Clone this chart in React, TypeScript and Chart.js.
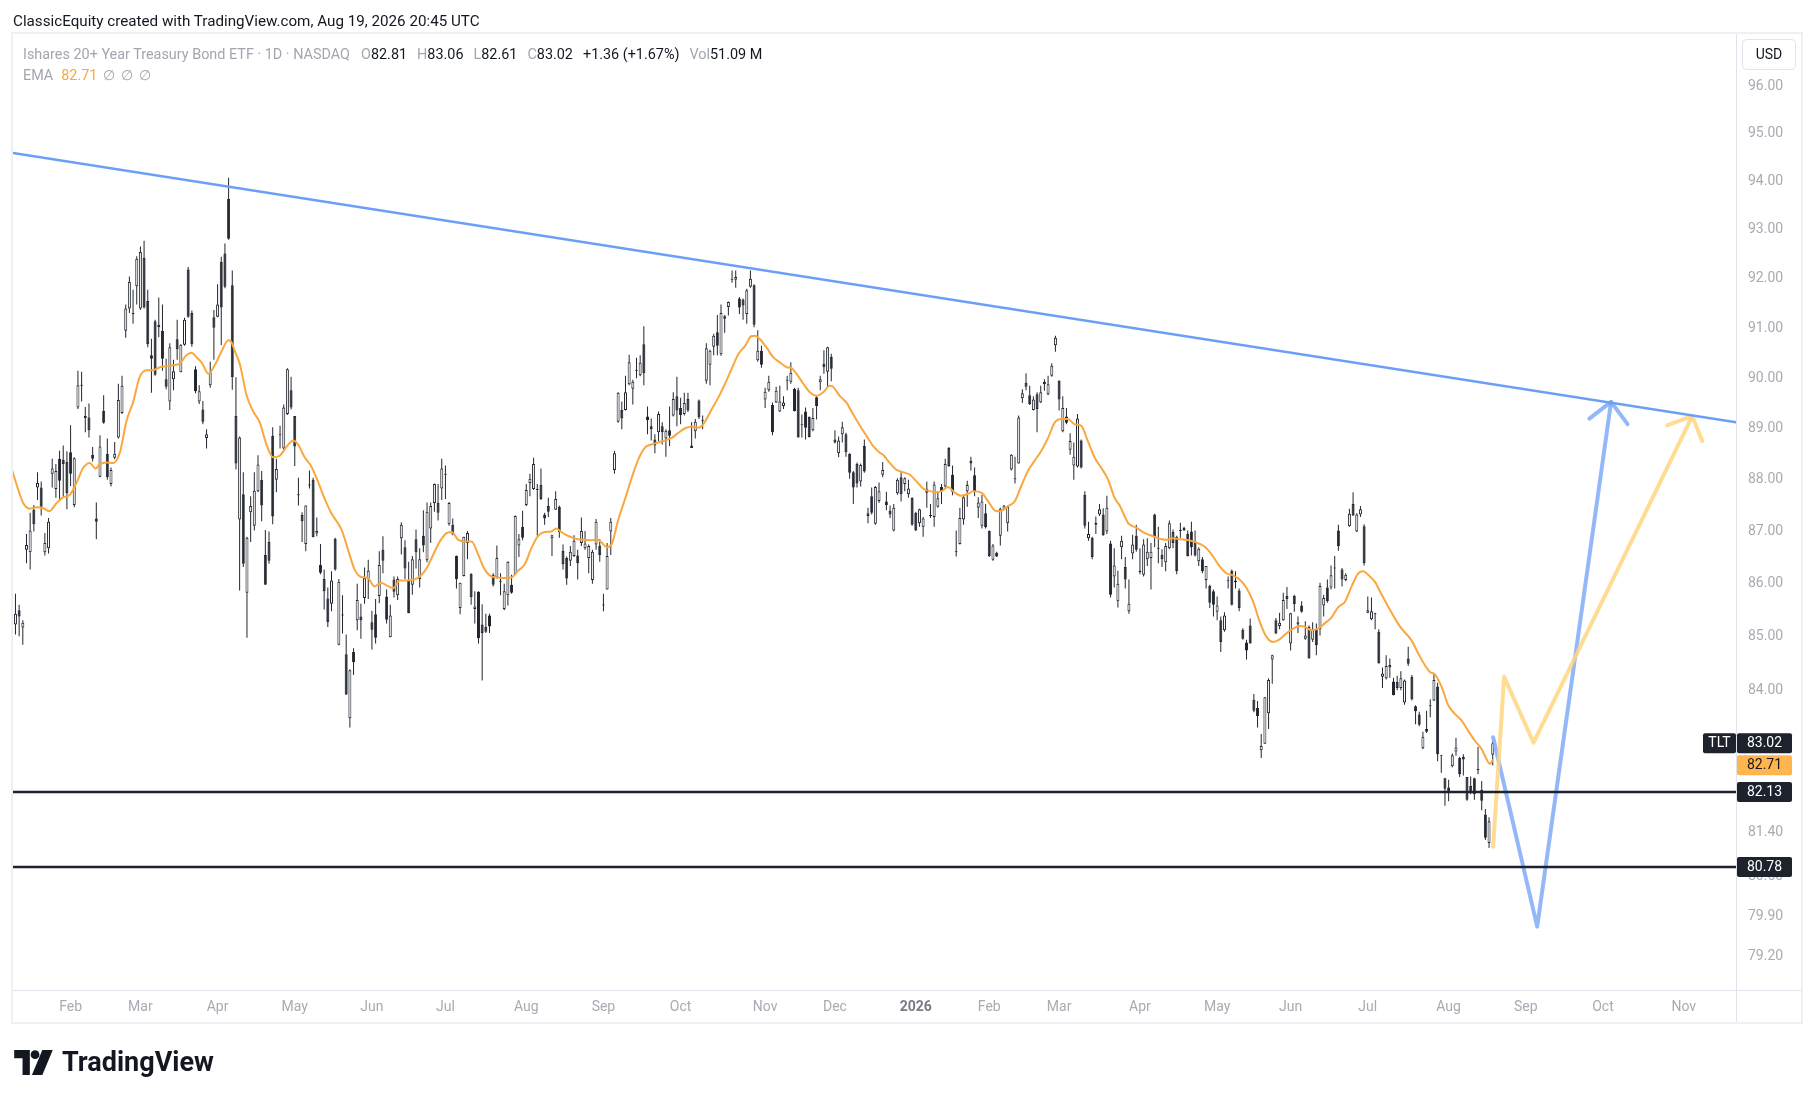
import React, { useEffect, useRef } from "react";
import { Chart, registerables } from "chart.js";
Chart.register(...registerables);

const W = 1815;
const H = 1100;

// ---- daily candles (bar index 0 = Jan 10 2025) ----
const openP = [
85.23,85.50,85.17,86.65,86.60,87.42,87.85,87.85,86.60,86.68,
88.12,87.82,88.41,88.39,88.35,88.54,87.51,89.42,89.85,89.21,
89.22,88.49,87.25,88.06,89.35,88.51,87.92,88.43,88.83,89.31,
90.95,91.40,91.29,91.85,91.40,92.43,91.55,90.46,91.14,91.07,
90.95,89.98,89.54,89.98,90.78,90.12,90.67,92.19,91.31,90.18,
89.54,89.38,88.82,89.86,91.22,91.23,92.35,92.52,93.64,91.87,
89.25,87.23,87.72,85.83,87.37,87.11,87.78,88.00,86.55,86.80,
88.86,88.00,88.87,88.61,89.29,89.76,89.25,87.70,87.32,86.76,
87.89,88.00,86.96,86.36,86.09,85.72,85.62,86.86,84.85,85.40,
84.67,83.48,84.71,85.31,85.38,85.73,86.09,85.27,85.42,85.77,
86.65,85.76,84.99,86.08,85.78,86.87,86.70,86.06,85.98,86.85,
86.09,86.92,86.45,87.06,87.55,87.55,87.83,88.10,87.14,87.13,
86.53,85.54,86.15,86.78,86.19,85.52,85.85,85.23,85.18,85.40,
86.17,86.12,86.04,85.52,85.78,85.98,86.18,86.73,87.09,87.51,
87.94,87.82,87.80,87.90,87.33,87.49,86.87,87.42,87.48,86.63,
86.49,86.44,86.53,86.54,86.78,86.68,86.49,86.07,86.75,86.73,
85.59,85.89,87.00,88.19,89.14,89.37,89.37,89.88,89.79,90.15,
90.06,90.68,89.24,89.05,88.79,88.93,89.05,88.81,88.97,89.26,
89.64,89.41,89.29,89.59,88.67,88.95,89.56,89.16,89.95,90.27,
90.63,90.92,90.48,91.24,91.43,91.98,91.98,91.60,91.58,91.29,
91.84,91.87,90.36,90.55,89.58,89.76,89.47,89.52,89.34,89.45,
89.95,89.93,89.79,89.76,89.07,89.34,89.23,88.97,89.62,89.92,
90.29,90.13,90.43,88.79,88.52,88.89,88.89,88.51,88.15,88.31,
87.97,88.66,87.35,87.68,87.15,87.59,88.10,87.58,87.40,87.02,
87.74,88.05,87.92,87.72,87.65,87.36,87.16,87.09,87.82,87.30,
87.28,87.48,87.86,87.87,88.62,88.10,86.60,86.76,87.23,87.78,
88.37,88.09,87.46,87.11,87.35,87.01,86.46,86.59,86.92,87.44,
87.16,88.20,88.01,88.32,89.60,89.91,89.66,89.37,89.68,89.52,
89.93,89.68,90.05,90.66,89.95,88.95,89.24,88.59,88.28,88.26,
88.77,87.71,86.87,86.88,87.13,87.33,87.33,87.00,86.77,86.14,
85.67,86.70,86.32,85.48,86.58,86.92,86.25,86.17,86.47,86.49,
87.33,86.67,86.55,86.41,86.68,86.99,86.90,87.01,87.07,86.95,
87.00,86.80,86.43,86.47,86.07,85.96,85.86,85.47,85.31,85.12,
86.05,86.25,86.06,85.87,85.13,84.89,85.21,83.82,83.67,82.89,
83.01,83.57,84.57,85.31,85.20,85.31,85.77,84.87,85.77,85.23,
85.59,84.96,85.18,84.94,85.14,85.14,85.59,85.93,85.93,86.29,
87.02,86.27,86.07,87.10,87.53,87.00,87.33,87.10,85.45,85.33,
85.42,85.09,84.25,84.22,84.47,84.16,84.15,84.04,83.77,84.59,
84.25,83.70,83.55,82.93,83.28,83.70,83.81,84.07,82.79,82.38,
82.21,82.60,82.87,82.75,82.77,82.40,82.24,82.38,82.53,82.17,
81.72,81.21,82.81
];
const highP = [
85.81,85.60,85.31,86.95,87.36,87.51,88.15,87.97,86.97,87.26,
88.41,88.31,88.57,88.67,88.56,89.07,88.44,90.15,90.13,89.43,
89.50,88.64,87.56,88.87,89.66,88.81,88.24,88.74,89.89,90.05,
91.48,92.05,91.78,92.46,92.66,92.78,91.78,90.79,91.17,91.62,
91.48,90.39,90.70,90.37,91.17,90.68,91.21,92.24,91.36,90.24,
89.86,89.55,88.99,90.33,91.37,91.89,92.45,92.72,94.08,92.17,
90.02,88.85,88.15,86.90,87.68,88.15,88.48,88.17,87.03,87.00,
89.03,88.41,89.06,89.48,90.20,90.03,89.25,88.04,87.37,87.50,
88.18,88.04,87.27,86.76,86.27,85.93,86.24,86.88,86.09,85.78,
85.04,84.39,84.78,86.00,85.62,86.31,86.46,85.49,85.71,86.62,
86.91,85.89,85.60,86.14,86.14,87.18,86.83,86.42,86.53,87.04,
86.68,87.41,87.56,87.56,87.93,87.92,88.41,88.28,87.57,87.25,
86.54,86.02,86.90,87.01,86.20,85.86,85.86,85.61,85.43,85.43,
86.20,86.73,86.20,86.00,86.43,86.17,87.31,86.95,87.40,87.92,
88.12,88.43,87.92,88.22,87.36,87.65,86.94,87.78,87.50,86.75,
86.52,86.72,86.93,86.65,87.27,87.01,86.75,86.65,87.24,86.85,
85.81,86.78,87.26,88.57,89.72,89.54,90.05,90.47,89.97,90.41,
90.46,91.04,89.44,89.20,88.89,89.34,89.13,88.99,89.44,89.72,
90.03,89.61,89.71,89.71,89.13,89.19,89.58,89.26,90.70,90.57,
90.89,91.27,91.48,91.27,91.54,92.17,92.17,91.63,91.60,91.80,
92.17,91.89,90.96,90.65,89.81,90.05,89.52,89.83,89.85,89.64,
90.05,90.32,89.81,89.81,89.28,89.42,89.24,89.41,89.64,90.05,
90.56,90.63,90.49,88.97,88.85,89.14,88.92,88.52,88.17,88.34,
88.32,88.79,87.46,87.85,87.88,87.95,88.35,87.77,87.50,87.53,
88.03,88.15,88.05,88.00,87.66,87.38,87.44,87.28,87.97,87.53,
87.97,87.78,87.92,88.41,88.64,88.28,87.02,87.46,87.71,87.98,
88.45,88.24,87.66,87.71,87.53,87.02,86.76,86.61,87.46,87.51,
87.50,88.50,88.45,89.26,89.78,90.10,89.85,89.64,89.72,89.85,
89.98,90.05,90.30,90.85,89.96,89.64,89.41,88.91,88.73,89.29,
88.79,87.78,87.19,86.90,87.29,87.53,87.45,87.69,86.82,86.68,
86.25,86.92,86.51,86.08,86.94,87.13,86.68,86.85,86.87,86.78,
87.34,87.09,86.66,86.78,87.21,87.04,86.92,87.17,87.09,87.02,
87.19,87.02,86.70,86.51,86.34,85.98,85.89,85.76,85.38,85.46,
86.14,86.27,86.24,85.91,85.16,84.94,85.34,83.93,83.80,83.19,
83.87,84.22,84.66,85.35,85.45,85.83,85.94,85.45,85.79,85.38,
85.67,85.29,85.21,85.27,85.25,86.02,85.79,86.08,86.35,86.53,
87.13,86.30,86.20,87.44,87.76,87.35,87.49,87.14,85.76,85.74,
85.45,85.14,84.42,84.65,84.59,84.23,84.27,84.35,84.20,84.81,
84.28,83.72,83.60,83.23,83.62,83.83,84.30,84.14,82.80,82.39,
82.35,82.83,83.12,82.77,82.82,82.40,82.41,82.39,82.95,82.33,
81.82,81.67,83.06
];
const lowP = [
85.04,85.01,84.85,86.39,86.27,87.00,87.61,87.31,86.54,86.58,
87.85,87.65,87.61,87.67,87.43,87.88,87.47,89.39,89.54,88.93,
88.83,88.36,86.85,88.05,89.10,88.00,87.87,88.40,88.81,89.29,
90.81,91.31,91.09,91.48,91.37,91.40,90.62,89.71,90.05,90.82,
90.15,89.78,89.37,89.76,90.37,90.12,90.65,91.21,90.63,89.70,
89.49,89.09,88.61,89.81,90.37,91.22,90.66,91.81,92.80,89.77,
88.20,85.87,86.32,84.98,86.80,87.02,87.76,87.20,85.98,86.38,
87.14,87.76,88.61,88.57,89.27,89.38,88.27,87.50,86.80,86.62,
87.83,86.89,86.91,86.18,85.51,85.18,85.48,86.25,84.84,85.06,
83.91,83.31,84.28,85.12,84.96,85.62,85.71,84.76,84.87,85.63,
86.20,85.25,84.99,85.74,85.69,86.56,86.09,85.44,85.79,86.29,
85.93,86.60,86.41,86.78,87.38,87.21,87.61,87.63,87.11,86.93,
85.91,85.42,86.14,86.47,85.60,85.25,84.87,84.18,85.07,85.07,
85.95,86.10,85.78,85.50,85.59,85.81,86.18,86.51,86.83,87.49,
87.68,87.80,86.92,87.61,87.13,87.28,86.53,87.42,86.88,86.27,
85.98,86.34,86.51,86.08,86.72,86.65,86.20,86.00,86.65,86.42,
85.48,85.89,86.55,88.12,89.12,88.99,89.36,89.86,89.48,90.00,
90.04,89.86,88.89,88.77,88.52,88.76,88.69,88.45,88.66,89.24,
89.05,89.09,89.26,89.33,88.62,88.81,89.19,88.99,89.89,89.86,
90.46,90.46,90.45,90.91,91.26,91.92,91.82,91.29,91.17,91.09,
91.82,91.02,90.33,90.21,89.41,89.73,88.87,89.51,89.33,89.39,
89.76,89.89,89.34,88.83,88.83,88.79,88.83,88.95,89.18,89.76,
90.09,89.81,89.94,88.71,88.44,88.73,88.45,88.02,87.53,87.85,
87.87,88.14,87.16,87.33,87.13,87.55,88.05,87.41,87.26,87.00,
87.71,87.58,87.78,87.65,87.11,87.01,87.09,86.90,87.46,87.26,
87.09,87.46,87.53,87.85,88.25,87.70,86.52,86.75,87.13,87.48,
88.18,87.68,87.26,87.06,87.06,86.51,86.44,86.51,86.73,87.43,
87.00,88.18,87.93,88.32,89.51,89.76,89.47,89.36,88.93,89.51,
89.75,89.66,90.03,90.53,89.36,88.93,89.09,88.49,88.00,88.24,
88.22,87.06,86.82,86.47,86.95,87.30,86.92,86.95,85.74,85.93,
85.55,86.47,85.91,85.43,86.47,86.61,86.18,86.14,86.34,85.89,
86.70,86.39,86.32,86.24,86.66,86.68,86.18,86.88,87.01,86.52,
86.54,86.52,86.34,86.20,85.91,85.54,85.38,85.31,84.71,85.09,
85.91,85.59,85.91,85.48,84.94,84.57,84.87,83.59,83.31,82.75,
83.01,83.28,84.12,85.05,85.14,85.30,85.52,84.74,85.47,85.07,
85.45,84.94,84.59,84.90,84.65,85.02,85.38,85.64,85.89,85.91,
86.63,85.95,86.05,87.09,87.30,86.99,87.28,86.35,85.44,85.31,
85.14,84.49,84.04,84.20,84.23,83.90,84.00,84.00,83.73,84.45,
83.81,83.37,83.33,82.91,83.21,83.50,83.80,82.69,82.48,81.88,
81.96,82.58,82.79,82.40,82.43,81.97,82.09,81.99,82.45,81.80,
81.26,81.12,82.61
];
const closeP = [
85.43,85.38,85.26,86.74,87.02,87.14,87.94,87.48,86.78,87.19,
88.22,88.17,87.98,88.31,87.74,88.12,88.42,89.86,89.86,89.25,
88.97,88.41,87.19,88.65,89.12,88.05,88.19,88.51,89.57,89.85,
91.40,91.94,91.30,92.41,92.55,91.42,90.68,90.39,90.07,91.02,
90.39,89.83,90.62,90.14,90.58,90.67,91.17,91.23,90.68,89.74,
89.74,89.14,88.89,90.12,91.01,91.48,91.42,91.84,92.82,90.02,
88.32,88.83,86.38,86.88,87.49,87.79,88.30,87.50,85.98,86.44,
87.29,88.21,88.88,89.42,90.18,89.42,88.65,87.71,87.20,87.50,
87.90,86.89,87.01,86.21,85.86,85.27,86.06,86.27,86.04,85.41,
83.92,84.37,84.52,85.69,85.31,86.11,86.25,85.13,84.98,86.36,
86.44,85.32,85.40,85.85,86.09,87.13,86.29,85.44,86.47,86.60,
86.47,86.73,87.38,87.49,87.92,87.36,88.22,88.11,87.55,86.95,
86.09,86.02,86.90,86.97,85.75,85.57,84.97,85.07,85.09,85.19,
85.98,86.49,86.05,85.86,86.42,85.83,87.30,86.85,86.88,87.80,
88.02,88.31,87.81,87.63,87.25,87.38,86.93,87.63,86.99,86.37,
86.10,86.61,86.82,86.39,87.01,86.77,86.72,86.61,87.19,86.55,
85.60,86.53,87.19,88.52,89.71,89.20,89.72,90.32,89.93,90.16,
90.31,90.10,89.17,88.99,88.67,89.29,88.93,88.96,88.86,89.59,
89.36,89.27,89.51,89.36,88.62,89.14,89.22,89.17,90.60,90.55,
90.85,90.65,91.31,91.19,91.53,91.99,92.04,91.42,91.46,91.77,
92.00,91.07,90.55,90.27,89.73,89.93,88.93,89.75,89.54,89.52,
89.96,90.11,89.35,88.83,89.08,89.02,88.84,89.21,89.45,89.98,
90.22,90.62,90.19,88.73,88.77,89.03,88.54,88.14,87.85,87.93,
88.29,88.16,87.30,87.36,87.86,87.78,88.19,87.51,87.33,87.46,
88.00,87.72,88.03,87.83,87.13,87.02,87.43,87.25,87.75,87.31,
87.91,87.64,87.78,88.31,88.27,87.77,86.61,87.26,87.66,87.90,
88.32,87.77,87.56,87.58,87.08,86.53,86.73,86.52,87.44,87.50,
87.48,88.49,88.02,89.22,89.70,89.83,89.49,89.58,89.39,89.72,
89.88,89.88,90.25,90.81,89.58,89.41,89.12,88.76,88.45,89.20,
88.24,87.11,86.95,86.51,87.17,87.43,86.93,87.46,85.79,86.35,
86.00,86.82,86.08,85.62,86.75,86.65,86.22,86.75,86.61,86.61,
86.90,86.68,86.47,86.72,87.16,86.78,86.24,87.02,87.03,86.53,
86.70,86.54,86.67,86.24,86.34,85.64,85.60,85.59,84.90,85.40,
86.06,85.60,86.03,85.54,84.96,84.74,84.87,83.62,83.52,82.97,
83.87,84.19,84.65,85.06,85.26,85.69,85.71,85.44,85.61,85.27,
85.47,85.02,84.59,85.14,84.84,85.96,85.73,85.67,86.16,86.30,
86.72,86.08,86.17,87.34,87.31,87.33,87.43,86.39,85.50,85.48,
85.43,84.50,84.31,84.45,84.42,83.91,84.04,84.22,84.18,84.49,
83.83,83.61,83.36,83.14,83.23,83.71,84.19,82.82,82.80,82.19,
82.13,82.80,82.94,82.45,82.72,81.99,82.13,82.09,82.54,81.97,
81.30,81.60,83.02
];

// ---- EMA line (bar index, value) ----
const emaX = [
-1.5,0.3,2.1,3.9,5.7,7.6,9.2,11.2,13.0,14.8,16.6,18.4,20.2,21.8,22.9,24.7,26.6,28.4,30.2,32.0,
33.8,35.6,37.4,39.3,41.1,42.9,44.7,46.5,47.9,49.5,50.7,52.5,54.3,56.1,57.9,58.8,59.7,61.1,62.9,64.7,
66.5,68.3,70.1,71.9,73.8,75.6,76.9,78.7,80.5,82.3,84.1,85.9,88.7,90.5,92.3,94.1,95.9,97.7,99.5,101.0,
102.8,104.6,106.4,108.3,110.1,111.9,113.7,115.5,117.3,118.7,120.5,122.3,124.1,125.9,127.7,129.5,131.4,133.2,135.0,136.8,
138.6,140.4,142.2,144.0,145.8,147.2,148.5,150.2,151.3,153.1,154.9,156.8,158.1,159.5,160.9,162.2,164.0,165.8,167.7,169.5,
171.3,173.1,174.9,176.7,178.6,180.4,182.2,184.0,185.8,187.2,189.5,191.3,193.1,194.9,196.7,198.6,200.2,201.3,202.6,204.4,
206.2,208.1,209.9,211.2,212.6,214.4,216.2,218.0,219.8,221.6,222.5,224.3,226.1,227.9,229.8,231.6,233.4,235.2,236.1,237.9,
239.7,241.5,243.4,245.2,247.0,248.8,250.5,252.0,253.8,255.6,257.4,259.3,260.6,262.9,264.7,266.9,268.3,270.1,271.9,273.7,
275.5,277.3,279.1,281.0,282.8,284.6,286.4,288.2,290.0,291.8,293.7,295.5,297.3,299.1,300.5,301.8,302.8,305.1,307.3,309.6,
311.9,313.2,315.0,316.8,318.6,320.5,322.3,324.1,325.9,327.7,329.5,331.3,333.1,335.0,336.8,338.6,340.4,342.2,344.0,345.8,
347.7,349.5,351.1,352.7,354.5,356.3,358.2,360.0,361.8,363.6,365.4,366.8,368.1,369.9,371.8,373.6,375.4,377.2,379.0,379.9,
381.7,383.5,384.9,386.3,388.1,389.9,391.7,393.5,395.3,397.1,399.0,400.3,401.2,402.0
];
const emaY = [
88.33,87.91,87.55,87.44,87.47,87.45,87.39,87.55,87.66,87.71,87.94,88.23,88.33,88.22,88.30,88.34,88.33,88.53,89.15,89.52,
90.02,90.16,90.16,90.22,90.24,90.26,90.29,90.46,90.51,90.40,90.31,90.09,90.27,90.54,90.76,90.72,90.54,90.27,89.66,89.34,
89.12,88.69,88.44,88.47,88.65,88.77,88.69,88.44,88.26,87.97,87.64,87.36,87.04,86.65,86.27,86.13,86.11,85.95,86.02,85.97,
85.92,86.06,86.06,86.08,86.14,86.30,86.56,86.81,86.97,86.99,86.84,86.81,86.81,86.56,86.27,86.14,86.12,86.11,86.12,86.25,
86.37,86.68,86.91,86.99,87.00,87.06,86.99,86.92,86.89,86.85,86.84,86.83,86.85,86.79,86.70,86.75,87.22,87.61,88.04,88.40,
88.63,88.69,88.73,88.77,88.82,88.92,89.01,89.04,89.02,89.09,89.39,89.62,89.89,90.19,90.48,90.65,90.84,90.85,90.78,90.61,
90.42,90.31,90.22,90.20,90.08,89.89,89.72,89.65,89.72,89.85,89.83,89.65,89.52,89.29,89.06,88.86,88.66,88.53,88.49,88.33,
88.20,88.15,88.10,87.97,87.83,87.78,87.76,87.78,87.86,87.75,87.69,87.73,87.78,87.75,87.58,87.39,87.40,87.49,87.58,87.88,
88.17,88.37,88.56,88.82,89.12,89.19,89.19,89.09,89.06,88.76,88.43,88.23,88.01,87.65,87.50,87.30,87.16,87.07,86.97,86.91,
86.85,86.84,86.87,86.85,86.84,86.81,86.76,86.68,86.52,86.33,86.20,86.16,86.08,85.92,85.66,85.28,85.00,84.90,84.95,85.06,
85.15,85.20,85.18,85.12,85.15,85.25,85.37,85.56,85.66,85.95,86.20,86.24,86.17,86.04,85.79,85.56,85.34,85.15,85.01,84.93,
84.69,84.47,84.34,84.29,84.06,83.72,83.56,83.44,83.25,83.07,82.91,82.73,82.64,82.71
];

// ---- axes ----
const monthIdx = [15,34,55,76,97,117,139,160,181,204,223,245,265,284,306,327,347,368,390,411,432,454];
const monthLabels = ["Feb","Mar","Apr","May","Jun","Jul","Aug","Sep","Oct","Nov","Dec","2026","Feb","Mar","Apr","May","Jun","Jul","Aug","Sep","Oct","Nov"];
const priceTicks = [96,95,94,93,92,91,90,89,88,87,86,85,84,81.4,80.6,79.9,79.2];
const xMin = -0.67;
const xMax = 468.2;
const yMin = 78.61;
const yMax = 97.12;

// ---- drawings ----
const trendX = [-0.67, 468.2];
const trendY = [94.60, 89.13];
const supportLevels = [82.13, 80.78];
const blueX = [402.1, 414.1, 434.2];
const blueY = [83.13, 79.72, 89.53];
const blueHeadX = [428.3, 434.2, 438.7];
const blueHeadY = [89.20, 89.53, 89.09];
const yellowX = [402.1, 405.1, 413.1, 456.3];
const yellowY = [81.14, 84.25, 83.03, 89.25];
const yellowHeadX = [449.5, 456.3, 459.0];
const yellowHeadY = [89.07, 89.25, 88.76];

const DARK = "#22262f";
const GRAY = "#a3a6af";
const FONT = "Roboto, 'Noto Sans', sans-serif";
const BOX = { left: 12, top: 33, right: 1802, bottom: 1023 };

function pts(xs: number[], ys: number[]) {
  return xs.map((x, i) => ({ x, y: ys[i] }));
}

function tag(ctx: CanvasRenderingContext2D, x: number, yc: number, w: number, h: number, bg: string, fg: string, text: string) {
  ctx.fillStyle = bg;
  ctx.beginPath();
  if ((ctx as any).roundRect) (ctx as any).roundRect(x, yc - h / 2, w, h, 2);
  else ctx.rect(x, yc - h / 2, w, h);
  ctx.fill();
  ctx.fillStyle = fg;
  ctx.font = `14px ${FONT}`;
  ctx.textAlign = "center";
  ctx.textBaseline = "middle";
  ctx.fillText(text, x + w / 2, yc + 0.5);
}

const overlay = {
  id: "overlay",
  afterDraw(chart: any) {
    const { ctx, chartArea: ca } = chart;
    const ys = chart.scales.y;
    ctx.save();
    ctx.strokeStyle = "#e0e3eb";
    ctx.lineWidth = 1;
    ctx.beginPath();
    ctx.moveTo(Math.round(ca.right) + 0.5, BOX.top);
    ctx.lineTo(Math.round(ca.right) + 0.5, BOX.bottom);
    ctx.moveTo(BOX.left + 1, Math.round(ca.bottom) + 0.5);
    ctx.lineTo(BOX.right - 1, Math.round(ca.bottom) + 0.5);
    ctx.stroke();
    ctx.strokeStyle = "#eef0f3";
    ctx.lineWidth = 2;
    ctx.strokeRect(BOX.left, BOX.top, BOX.right - BOX.left, BOX.bottom - BOX.top);

    // USD box
    ctx.fillStyle = "#ffffff";
    ctx.strokeStyle = "#e0e3eb";
    ctx.lineWidth = 1;
    ctx.beginPath();
    if (ctx.roundRect) ctx.roundRect(1742.5, 39.5, 53, 30, 4);
    else ctx.rect(1742.5, 39.5, 53, 30);
    ctx.fill();
    ctx.stroke();
    ctx.fillStyle = "#131722";
    ctx.font = `14px ${FONT}`;
    ctx.textAlign = "center";
    ctx.textBaseline = "middle";
    ctx.fillText("USD", 1769, 55);

    const last = closeP[closeP.length - 1];
    const emaLast = emaY[emaY.length - 1];
    const x0 = ca.right + 1;
    const yLast = ys.getPixelForValue(last);
    tag(ctx, x0 - 34, yLast, 33, 20, "#1e222d", "#ffffff", "TLT");
    tag(ctx, x0, yLast, 55, 20, "#1e222d", "#ffffff", last.toFixed(2));
    const yEma = Math.max(ys.getPixelForValue(emaLast), yLast + 22);
    tag(ctx, x0, yEma, 55, 20, "#ffb54d", "#131722", emaLast.toFixed(2));
    supportLevels.forEach((lv) => {
      tag(ctx, x0, ys.getPixelForValue(lv), 55, 20, "#1e222d", "#ffffff", lv.toFixed(2));
    });
    ctx.restore();
  },
};

export default function App() {
  const ref = useRef<HTMLCanvasElement | null>(null);
  useEffect(() => {
    document.body.style.margin = "0";
    const idx = closeP.map((_, i) => i);
    const wick = idx.map((i) => ({ x: i, y: [lowP[i], highP[i]] }));
    const body = idx.map((i) => ({ x: i, y: [openP[i], closeP[i]] }));
    const up = idx.map((i) => closeP[i] >= openP[i]);
    const lineDs = (data: any, color: string, width: number, extra: any = {}) => ({
      type: "line",
      data,
      borderColor: color,
      borderWidth: width,
      pointRadius: 0,
      fill: false,
      borderCapStyle: "round",
      borderJoinStyle: "round",
      order: 1,
      ...extra,
    });
    const chart = new Chart(ref.current as HTMLCanvasElement, {
      type: "bar",
      data: {
        datasets: [
          {
            type: "bar",
            data: wick,
            backgroundColor: DARK,
            barThickness: 1,
            grouped: false,
            inflateAmount: 0,
            order: 4,
          } as any,
          {
            type: "bar",
            data: body,
            backgroundColor: idx.map((i) => (up[i] ? "#ffffff" : DARK)),
            borderColor: DARK,
            borderWidth: 1,
            borderSkipped: false,
            barThickness: 3,
            minBarLength: 1,
            grouped: false,
            inflateAmount: 0,
            order: 3,
          } as any,
          lineDs(pts(emaX, emaY), "#f9a73e", 2, { cubicInterpolationMode: "monotone", order: 2 }),
          lineDs(pts(trendX, trendY), "#6b9ff5", 2.5),
          lineDs(pts([xMin, xMax], [supportLevels[0], supportLevels[0]]), "#1e222d", 2.5),
          lineDs(pts([xMin, xMax], [supportLevels[1], supportLevels[1]]), "#1e222d", 2.5),
          lineDs(pts(yellowX, yellowY), "rgba(255,214,128,0.85)", 4),
          lineDs(pts(yellowHeadX, yellowHeadY), "rgba(255,214,128,0.85)", 4),
          lineDs(pts(blueX, blueY), "rgba(120,166,248,0.8)", 4),
          lineDs(pts(blueHeadX, blueHeadY), "rgba(120,166,248,0.8)", 4),
        ] as any,
      },
      options: {
        responsive: false,
        animation: false,
        events: [],
        layout: { padding: { left: 13, top: 34, right: 13, bottom: 77 } },
        plugins: { legend: { display: false }, tooltip: { enabled: false } },
        scales: {
          x: {
            type: "linear",
            offset: false,
            min: xMin,
            max: xMax,
            position: "bottom",
            grid: { display: false, drawTicks: false, offset: false },
            border: { display: false },
            afterBuildTicks: (s: any) => {
              s.ticks = monthIdx.map((v) => ({ value: v }));
            },
            afterFit: (s: any) => {
              s.height = 33;
              s.paddingLeft = 0;
              s.paddingRight = 0;
            },
            ticks: {
              autoSkip: false,
              maxRotation: 0,
              padding: 9,
              callback: (_v: any, i: number) => monthLabels[i],
              color: (c: any) => (monthLabels[c.index] === "2026" ? "#787b86" : "#a8abb3"),
              font: (c: any) => ({ family: FONT, size: 14, weight: monthLabels[c.index] === "2026" ? "bold" : "normal" }),
            },
          },
          y: {
            type: "logarithmic",
            min: yMin,
            max: yMax,
            position: "right",
            grid: { display: false, drawTicks: false },
            border: { display: false },
            afterBuildTicks: (s: any) => {
              s.ticks = priceTicks.map((v) => ({ value: v }));
            },
            afterFit: (s: any) => {
              s.width = 66;
            },
            ticks: {
              padding: 12,
              color: "#a8abb3",
              font: { family: FONT, size: 14 },
              callback: (v: any) => Number(v).toFixed(2),
            },
          },
        },
      } as any,
      plugins: [overlay],
    });
    return () => chart.destroy();
  }, []);

  const dk = { color: "#131722" };
  const gap = { marginLeft: 10 };
  return (
    <div style={{ position: "absolute", left: 0, top: 0, width: W, height: H, background: "#ffffff", fontFamily: FONT }}>
      <canvas ref={ref} width={W} height={H} style={{ position: "absolute", left: 0, top: 0, width: W, height: H }} />
      <div style={{ position: "absolute", left: 13, top: 11.5, fontSize: 15.2, lineHeight: "18px", color: "#131722", whiteSpace: "nowrap" }}>
        ClassicEquity created with TradingView.com, Aug 19, 2026 20:45 UTC
      </div>
      <div style={{ position: "absolute", left: 23, top: 46, fontSize: 14.4, lineHeight: "18px", color: GRAY, whiteSpace: "nowrap" }}>
        <span>Ishares 20+ Year Treasury Bond ETF · 1D · NASDAQ</span>
        <span style={{ marginLeft: 11 }}>O<span style={dk}>82.81</span></span>
        <span style={gap}>H<span style={dk}>83.06</span></span>
        <span style={gap}>L<span style={dk}>82.61</span></span>
        <span style={gap}>C<span style={dk}>83.02</span></span>
        <span style={{ ...gap, ...dk }}>+1.36 (+1.67%)</span>
        <span style={gap}>Vol<span style={dk}>51.09 M</span></span>
      </div>
      <div style={{ position: "absolute", left: 23, top: 67, fontSize: 14.4, lineHeight: "18px", color: GRAY, whiteSpace: "nowrap" }}>
        <span>EMA</span>
        <span style={{ marginLeft: 8, color: "#f9a73e" }}>82.71</span>
        <span style={{ marginLeft: 6 }}>∅</span>
        <span style={{ marginLeft: 6 }}>∅</span>
        <span style={{ marginLeft: 6 }}>∅</span>
      </div>
      <div style={{ position: "absolute", left: 14, top: 1047, display: "flex", alignItems: "center", height: 30 }}>
        <svg width="40" height="25" viewBox="0 0 38 24">
          <path d="M0 0 H15 V24 H8 V8 H0 Z" fill="#131722" />
          <circle cx="20" cy="4.5" r="4.2" fill="#131722" />
          <path d="M27 0 H37 L27 24 H17 Z" fill="#131722" />
        </svg>
        <span style={{ marginLeft: 8, fontSize: 27, fontWeight: 700, color: "#131722", letterSpacing: 0 }}>TradingView</span>
      </div>
    </div>
  );
}
